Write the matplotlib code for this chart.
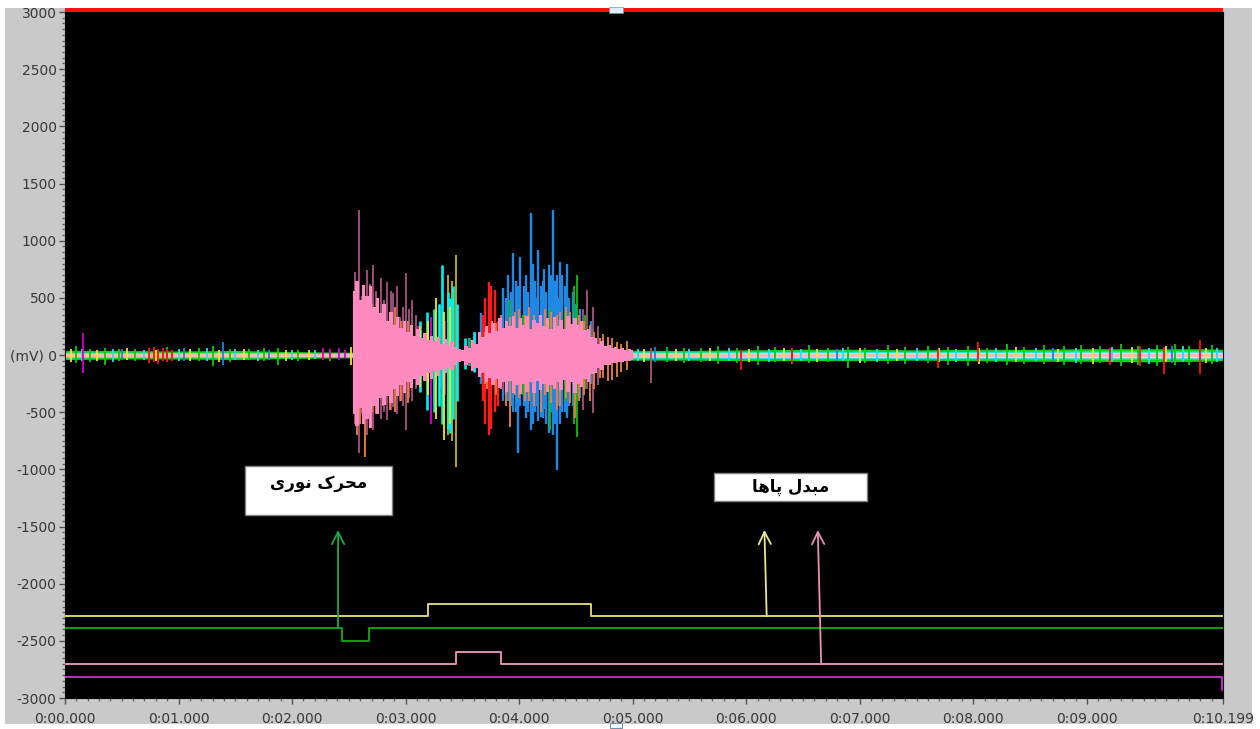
import matplotlib
matplotlib.use("Agg")
import matplotlib.pyplot as plt
from matplotlib.patches import Rectangle
from matplotlib.ticker import MultipleLocator, FixedLocator

# ---- axis ranges / labels -------------------------------------------------
t_end = 10.199
y_ticks = [3000, 2500, 2000, 1500, 1000, 500, 0, -500, -1000, -1500, -2000, -2500, -3000]
y_ticklabels = ['3000', '2500', '2000', '1500', '1000', '500', '(mV) 0', '-500', '-1000',
                '-1500', '-2000', '-2500', '-3000']
x_ticks = [0, 1, 2, 3, 4, 5, 6, 7, 8, 9, t_end]
x_ticklabels = ['0:00.000', '0:01.000', '0:02.000', '0:03.000', '0:04.000', '0:05.000',
                '0:06.000', '0:07.000', '0:08.000', '0:09.000', '0:10.199']

# labels (Persian, written in shaped presentation forms, visual order)
label_light = '\uFBFC\uFEAD\uFEEE\uFEE7 \uFB8E\uFEAE\uFEA4\uFEE3'   # محرک نوری
label_feet = '\uFE8E\uFEEB\uFE8E\uFB58 \uFEDD\uFEAA\uFE92\uFEE3'    # مبدل پاها

# ---- baseline noise band (read every 0.5 s) -------------------------------
band_t = [0, 0.5, 1, 1.5, 2, 2.5, 3, 3.5, 4, 4.5, 5, 5.5, 6, 6.5, 7, 7.5, 8, 8.5, 9, 9.5, 10, 10.199]
gband_hi = [40, 40, 35, 40, 30, 25, 35, 35, 35, 35, 40, 40, 45, 50, 50, 45, 50, 50, 55, 55, 55, 50]
gband_lo = [-40, -35, -35, -40, -30, -25, -35, -35, -35, -35, -45, -45, -50, -50, -50, -45, -50, -55, -55, -60, -55, -50]
cband_hi = [25, 25, 22, 25, 20, 18, 25, 25, 25, 25, 28, 28, 30, 32, 32, 30, 32, 34, 36, 36, 36, 32]
cband_lo = [-25, -22, -22, -25, -20, -18, -25, -25, -25, -25, -28, -28, -30, -32, -32, -30, -32, -34, -36, -36, -36, -32]
yband_hi = [16, 15, 15, 16, 13, 12, 15, 15, 15, 15, 18, 18, 20, 20, 22, 20, 22, 22, 24, 24, 24, 22]
yband_lo = [-15, -15, -13, -15, -13, -12, -15, -15, -15, -15, -18, -18, -20, -20, -22, -20, -22, -22, -24, -24, -24, -22]

# ---- baseline spikes ------------------------------------------------------
green_sp_t = [0.10, 0.22, 0.35, 0.48, 0.62, 0.90, 1.18, 1.30, 1.45, 1.62, 1.75, 1.88, 2.05, 2.33,
              5.30, 5.45, 5.60, 5.75, 5.92, 6.10, 6.25, 6.40, 6.55, 6.72, 6.90, 7.05, 7.25, 7.40,
              7.60, 7.78, 7.95, 8.12, 8.30, 8.45, 8.62, 8.80, 8.95, 9.12, 9.30, 9.45, 9.62, 9.78,
              9.90, 10.10]
green_sp_hi = [80, 55, 60, 50, 55, 70, 60, 75, 50, 50, 60, 65, 45, 45,
               70, 60, 65, 80, 60, 75, 70, 60, 85, 65, 70, 60, 90, 70,
               75, 70, 80, 65, 95, 70, 85, 75, 90, 80, 100, 75, 85, 95,
               80, 90]
green_sp_lo = [-70, -60, -90, -55, -50, -60, -55, -100, -60, -45, -55, -85, -50, -50,
               -60, -70, -65, -75, -70, -90, -65, -80, -70, -60, -110, -70, -80, -75,
               -70, -85, -95, -70, -85, -75, -80, -90, -80, -70, -100, -85, -95, -90,
               -85, -80]
yellow_sp_t = [0.05, 0.28, 0.55, 0.80, 1.10, 1.36, 1.58, 1.95, 2.15, 2.52, 5.10, 5.38, 5.68,
               6.02, 6.33, 6.62, 7.00, 7.33, 7.70, 8.05, 8.38, 8.75, 9.05, 9.40, 9.70, 10.05]
yellow_sp_hi = [50, 45, 60, 40, 55, 45, 50, 40, 45, 70, 55, 50, 60, 55, 65, 50, 60, 55, 65,
                60, 70, 55, 65, 70, 75, 60]
yellow_sp_lo = [-60, -50, -45, -55, -50, -60, -45, -50, -40, -90, -60, -55, -50, -65, -55,
                -60, -70, -55, -60, -75, -60, -65, -80, -70, -60, -70]
cyan_sp_t = [0.15, 0.42, 0.70, 1.00, 1.25, 1.50, 1.70, 2.00, 2.20, 5.05, 5.50, 5.85, 6.20,
             6.48, 6.85, 7.15, 7.50, 7.85, 8.20, 8.55, 8.90, 9.22, 9.55, 9.85, 10.15]
cyan_sp_hi = [55, 50, 45, 55, 60, 50, 45, 40, 40, 50, 55, 60, 50, 55, 60, 55, 65, 55, 60,
              65, 60, 70, 65, 75, 60]
cyan_sp_lo = [-50, -60, -45, -50, -55, -45, -50, -40, -35, -55, -50, -55, -60, -50, -55,
              -65, -55, -60, -65, -55, -70, -60, -75, -65, -60]
red_sp_t = [0.74, 0.78, 0.82, 0.86, 0.90, 0.94, 5.95, 6.40, 7.69, 8.04, 9.20, 9.47, 9.68, 10.00]
red_sp_hi = [60, 70, 55, 65, 50, 45, 40, 60, 50, 115, 60, 80, 70, 130]
red_sp_lo = [-70, -60, -75, -55, -65, -50, -130, -70, -110, -60, -90, -100, -165, -165]
magenta_sp_t = [0.16, 2.27, 2.33, 2.41, 2.47]
magenta_sp_hi = [190, 60, 50, 65, 45]
magenta_sp_lo = [-160, -40, -35, -45, -30]
blue_sp_t = [0.50, 1.05, 1.39, 1.80, 5.20, 6.80, 8.70, 9.75]
blue_sp_hi = [50, 60, 115, 45, 70, 55, 60, 75]
blue_sp_lo = [-45, -55, -85, -40, -60, -50, -55, -70]

# ---- pink core envelope of the bursts (read every 0.03 s) -----------------
pink_t = [2.54, 2.57, 2.60, 2.63, 2.66, 2.69, 2.72, 2.75, 2.78, 2.81,
          2.84, 2.87, 2.90, 2.93, 2.96, 2.99, 3.02, 3.05, 3.08, 3.11,
          3.14, 3.17, 3.20, 3.23, 3.26, 3.29, 3.32, 3.35, 3.38, 3.41,
          3.44, 3.47, 3.50, 3.53, 3.56, 3.59, 3.62, 3.65, 3.68, 3.71,
          3.74, 3.77, 3.80, 3.83, 3.86, 3.89, 3.92, 3.95, 3.98, 4.01,
          4.04, 4.07, 4.10, 4.13, 4.16, 4.19, 4.22, 4.25, 4.28, 4.31,
          4.34, 4.37, 4.40, 4.43, 4.46, 4.49, 4.52, 4.55, 4.58, 4.61,
          4.64, 4.67, 4.70, 4.73, 4.76, 4.79, 4.82, 4.85, 4.88, 4.91,
          4.94, 4.97, 5.00]
pink_hi = [560, 650, 480, 610, 520, 600, 420, 500, 370, 450,
           300, 380, 260, 330, 240, 300, 200, 260, 170, 230,
           150, 190, 130, 170, 120, 160, 100, 140, 90, 120,
           70, 50, 40, 80, 60, 130, 100, 200, 160, 250,
           190, 280, 210, 320, 240, 300, 250, 340, 240, 320,
           260, 340, 230, 310, 280, 350, 250, 320, 230, 330,
           250, 310, 230, 340, 270, 320, 260, 300, 220, 230,
           160, 150, 100, 120, 80, 90, 60, 70, 50, 60,
           45, 50, 40]
pink_lo = [-520, -620, -460, -600, -560, -640, -450, -520, -380, -440,
           -360, -420, -300, -360, -260, -330, -240, -290, -210, -260,
           -180, -230, -160, -210, -150, -180, -130, -160, -110, -130,
           -90, -60, -50, -90, -70, -140, -110, -190, -160, -240,
           -200, -260, -210, -290, -240, -320, -230, -330, -260, -340,
           -250, -320, -240, -330, -230, -310, -250, -320, -260, -300,
           -240, -310, -220, -320, -240, -330, -250, -280, -210, -240,
           -170, -160, -110, -130, -90, -90, -70, -70, -60, -60,
           -50, -55, -40]

# ---- burst spikes per channel ---------------------------------------------
mauve_t = [2.55, 2.57, 2.59, 2.62, 2.66, 2.69, 2.71, 2.74, 2.76, 2.78, 2.81, 2.84, 2.87, 2.89,
           2.92, 2.95, 2.98, 3.00, 3.03, 3.06, 3.09, 4.56, 4.60, 4.65, 4.69, 5.16]
mauve_hi = [725, 600, 1268, 520, 745, 620, 790, 560, 500, 670, 480, 640, 560, 540, 600, 335, 420, 715,
            400, 480, 350, 400, 570, 420, 250, 60]
mauve_lo = [-600, -500, -860, -520, -700, -600, -655, -480, -520, -560, -500, -570, -480, -455, -520,
            -400, -450, -655, -380, -400, -300, -480, -300, -510, -260, -245]
orange_t = [2.57, 2.60, 2.64, 2.67, 2.70, 2.74, 2.80, 2.86, 2.91, 2.96, 3.02, 3.70, 3.72, 3.76,
            3.80, 3.84, 3.88, 3.92, 3.96, 4.00, 4.05, 4.09, 4.13, 4.19, 4.23, 4.28, 4.33, 4.36,
            4.41, 4.45, 4.49, 4.53, 4.57, 4.62, 4.66, 4.71, 4.74, 4.78, 4.82, 4.86, 4.90, 4.95]
orange_hi = [500, 420, 300, 480, 450, 400, 380, 350, 420, 300, 300, 200, 250, 300,
             280, 350, 300, 330, 380, 400, 350, 420, 350, 330, 400, 380, 350, 380,
             420, 380, 300, 350, 300, 260, 200, 150, 180, 160, 150, 110, 100, 120]
orange_lo = [-700, -600, -890, -550, -500, -520, -450, -480, -500, -400, -420, -250, -300, -250,
             -350, -300, -450, -630, -350, -380, -400, -400, -450, -500, -350, -420, -480, -450,
             -380, -420, -550, -400, -350, -400, -300, -200, -200, -230, -220, -190, -150, -130]
blue_t = [3.56, 3.61, 3.66, 3.74, 3.86, 3.88, 3.90, 3.93, 3.95, 3.97, 3.99, 4.01, 4.04, 4.06,
          4.08, 4.10, 4.12, 4.14, 4.16, 4.17, 4.19, 4.21, 4.22, 4.24, 4.26, 4.28, 4.30, 4.32,
          4.33, 4.35, 4.36, 4.38, 4.40, 4.42, 4.44, 4.47, 4.50, 4.54, 4.63]
blue_hi = [150, 200, 365, 300, 585, 500, 700, 550, 890, 650, 600, 860, 600, 700,
           550, 1240, 800, 650, 500, 920, 600, 650, 750, 550, 790, 700, 1268, 650,
           700, 500, 815, 700, 600, 800, 500, 550, 450, 400, 300]
blue_lo = [-100, -150, -250, -350, -400, -350, -400, -450, -500, -500, -860, -450, -450, -550,
           -500, -655, -600, -500, -450, -580, -540, -550, -470, -600, -680, -500, -700, -600,
           -1005, -450, -600, -500, -500, -550, -450, -450, -400, -380, -250]
red_t = [3.68, 3.70, 3.73, 3.75, 3.79, 3.81, 3.85]
red_hi = [350, 500, 640, 600, 570, 300, 200]
red_lo = [-400, -600, -700, -650, -500, -450, -300]
green_t = [3.57, 3.78, 3.92, 4.03, 4.27, 4.40, 4.48, 4.51, 4.58]
green_hi = [150, 250, 480, 350, 400, 380, 600, 700, 350]
green_lo = [-100, -200, -300, -350, -655, -400, -600, -715, -300]
cyan_t = [3.08, 3.13, 3.19, 3.25, 3.29, 3.32, 3.37, 3.39, 3.42, 3.45, 3.52, 3.60]
cyan_hi = [150, 300, 380, 400, 450, 790, 550, 500, 600, 450, 150, 200]
cyan_lo = [-200, -320, -480, -500, -450, -600, -650, -680, -560, -400, -120, -150]
yellow_t = [3.10, 3.13, 3.20, 3.27, 3.34, 3.39]
yellow_hi = [200, 250, 300, 500, 380, 420]
yellow_lo = [-150, -280, -350, -560, -740, -600]
olive_t = [3.37, 3.41, 3.44]
olive_hi = [700, 650, 875]
olive_lo = [-700, -750, -980]
magenta_t = [3.06, 3.11, 3.22, 3.30, 3.35]
magenta_hi = [200, 250, 330, 450, 300]
magenta_lo = [-150, -250, -600, -300, -350]

# ---- stimulus / trigger channels -----------------------------------------
yellow_step_t = [0, 3.20, 4.63, t_end]
yellow_step_v = [-2285, -2180, -2285, -2285]
green_step_t = [0, 2.44, 2.68, t_end]
green_step_v = [-2390, -2500, -2390, -2390]
pink_step_t = [0, 3.44, 3.84, t_end]
pink_step_v = [-2705, -2598, -2705, -2705]
magenta_step_t = [0, 10.19, t_end]
magenta_step_v = [-2815, -2930, -2930]

fig = plt.figure(figsize=(12.6, 7.29), dpi=100, facecolor='white')
# grey window frame
fig.patches.append(Rectangle((5 / 1260, 5 / 729), 1247 / 1260, 716 / 729,
                             transform=fig.transFigure, facecolor='#c9c9c9', edgecolor='none', zorder=-10))
ax = fig.add_axes([65 / 1260, 31 / 729, 1158 / 1260, 686 / 729])
ax.set_facecolor('black')
ax.set_xlim(0, t_end)
ax.set_ylim(-3000, 3000)

# baseline band
ax.fill_between(band_t, gband_lo, gband_hi, color='#10d020', lw=0, zorder=1)
ax.fill_between(band_t, cband_lo, cband_hi, color='#30e0d8', lw=0, zorder=1.1)
ax.fill_between(band_t, yband_lo, yband_hi, color='#e8e880', lw=0, zorder=1.2)
ax.axhline(0, color='#ffb0d0', lw=1.8, zorder=1.3)

spike_lw = 1.3
ax.vlines(green_sp_t, green_sp_lo, green_sp_hi, color='#00d000', lw=spike_lw, zorder=1.5)
ax.vlines(yellow_sp_t, yellow_sp_lo, yellow_sp_hi, color='#e8e830', lw=spike_lw, zorder=1.5)
ax.vlines(cyan_sp_t, cyan_sp_lo, cyan_sp_hi, color='#20e0f0', lw=spike_lw, zorder=1.5)
ax.vlines(red_sp_t, red_sp_lo, red_sp_hi, color='#ff1010', lw=spike_lw, zorder=1.5)
ax.vlines(magenta_sp_t, magenta_sp_lo, magenta_sp_hi, color='#d000d0', lw=spike_lw, zorder=1.5)
ax.vlines(blue_sp_t, blue_sp_lo, blue_sp_hi, color='#1e80e0', lw=spike_lw, zorder=1.5)

# bursts
ax.vlines(mauve_t, mauve_lo, mauve_hi, color='#a85480', lw=spike_lw, zorder=2)
ax.vlines(blue_t, blue_lo, blue_hi, color='#1e88e5', lw=spike_lw + 0.4, zorder=2.1)
ax.vlines(red_t, red_lo, red_hi, color='#ff1a1a', lw=spike_lw + 0.4, zorder=2.2)
ax.vlines(green_t, green_lo, green_hi, color='#10c010', lw=spike_lw, zorder=2.2)
ax.vlines(orange_t, orange_lo, orange_hi, color='#f08040', lw=spike_lw, zorder=2.3)
ax.vlines(magenta_t, magenta_lo, magenta_hi, color='#e000e0', lw=spike_lw, zorder=2.4)
ax.vlines(olive_t, olive_lo, olive_hi, color='#c8b400', lw=spike_lw, zorder=2.4)
ax.vlines(cyan_t, cyan_lo, cyan_hi, color='#00f0f0', lw=spike_lw + 0.6, zorder=2.5)
ax.vlines(yellow_t, yellow_lo, yellow_hi, color='#f0f000', lw=spike_lw, zorder=2.6)
ax.fill_between(pink_t, pink_lo, pink_hi, step='mid', color='#ff8ac0', lw=0, zorder=3)

# trigger lines
ax.step(yellow_step_t, yellow_step_v, where='post', color='#d8d070', lw=1.4, zorder=4)
ax.step(green_step_t, green_step_v, where='post', color='#10a010', lw=1.4, zorder=4)
ax.step(pink_step_t, pink_step_v, where='post', color='#e090b8', lw=1.4, zorder=4)
ax.step(magenta_step_t, magenta_step_v, where='post', color='#c030c0', lw=1.4, zorder=4)

# arrows
arrow_kw = dict(arrowstyle='->', lw=1.3, mutation_scale=22, shrinkA=0, shrinkB=0)
ax.annotate('', xy=(2.405, -1530), xytext=(2.405, -2390),
            arrowprops=dict(color='#20a848', **arrow_kw), zorder=5)
ax.annotate('', xy=(6.16, -1530), xytext=(6.18, -2285),
            arrowprops=dict(color='#e8e890', **arrow_kw), zorder=5)
ax.annotate('', xy=(6.63, -1530), xytext=(6.66, -2705),
            arrowprops=dict(color='#e890b8', **arrow_kw), zorder=5)

# label boxes
ax.add_patch(Rectangle((1.586, -1399), 1.295, 428, facecolor='white', edgecolor='#808080', lw=1, zorder=6))
ax.text(2.23, -1120, label_light, ha='center', va='center', fontsize=12, fontweight='bold',
        color='black', zorder=7)
ax.add_patch(Rectangle((5.718, -1277), 1.348, 245, facecolor='white', edgecolor='#808080', lw=1, zorder=6))
ax.text(6.39, -1154, label_feet, ha='center', va='center', fontsize=12, fontweight='bold',
        color='black', zorder=7)

# ticks
ax.yaxis.set_major_locator(FixedLocator(y_ticks))
ax.set_yticklabels(y_ticklabels)
ax.yaxis.set_minor_locator(MultipleLocator(50))
ax.xaxis.set_major_locator(FixedLocator(x_ticks))
ax.set_xticklabels(x_ticklabels)
ax.xaxis.set_minor_locator(MultipleLocator(0.1))
ax.tick_params(axis='both', which='major', labelsize=10, labelcolor='#383838', color='#505050',
               length=4, width=1)
ax.tick_params(axis='both', which='minor', color='#606060', length=2, width=1)
ax.tick_params(axis='x', which='major', pad=6)
ax.tick_params(axis='y', which='major', pad=2)
for s in ax.spines.values():
    s.set_color('black')

# red top bar and scroll markers
fig.patches.append(Rectangle((65 / 1260, 717 / 729), 1158 / 1260, 4 / 729, transform=fig.transFigure,
                             facecolor='#ff1010', edgecolor='none', zorder=5))
fig.patches.append(Rectangle((609 / 1260, 716 / 729), 14 / 1260, 6 / 729, transform=fig.transFigure,
                             facecolor='#e0f0ff', edgecolor='#8090a0', lw=0.5, zorder=6))
fig.patches.append(Rectangle((610 / 1260, 1 / 729), 12 / 1260, 5 / 729, transform=fig.transFigure,
                             facecolor='white', edgecolor='#7090b0', lw=0.8, zorder=6))

fig.savefig('out.png', dpi=100, facecolor=fig.get_facecolor())
